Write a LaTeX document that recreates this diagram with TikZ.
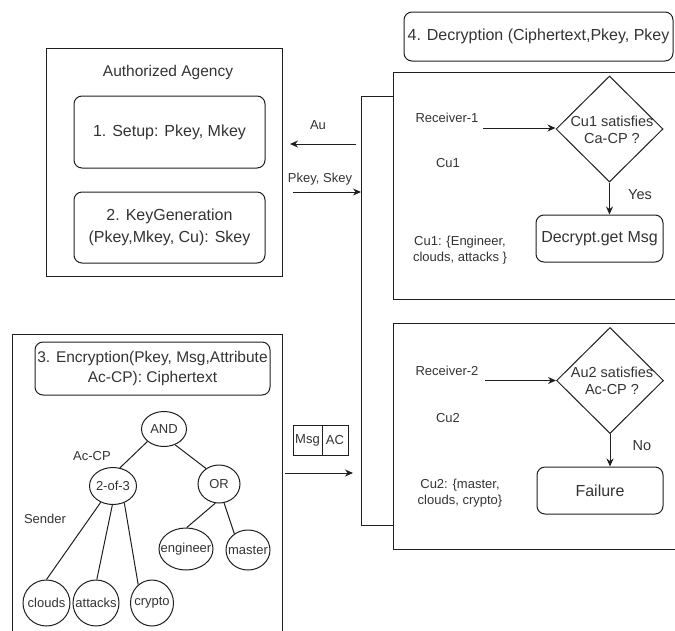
\documentclass[tikz,border=0pt]{standalone}
\usepackage{fontspec}
\setmainfont{Liberation Sans}
\usetikzlibrary{shapes.geometric,arrows.meta}
\definecolor{ink}{gray}{0.2}
\definecolor{edge}{gray}{0.12}
\begin{document}
\begin{tikzpicture}[x=1pt,y=-1pt,
  every node/.style={text=ink},
  lbl/.style={font=\fontsize{13}{16}\selectfont},
  mid/.style={font=\fontsize{14.5}{17}\selectfont},
  big/.style={font=\fontsize{16}{22}\selectfont},
  frame/.style={draw=edge, line width=1pt, rectangle, inner sep=0pt},
  rbox/.style={draw=edge, line width=1pt, rectangle, rounded corners=8pt,
               inner sep=0pt, align=center, big},
  ell/.style={draw=edge, line width=1pt, ellipse, inner sep=0pt,
              label={[lbl, text=ink]center:#1}},
  decision/.style={draw=edge, line width=1pt, diamond, inner sep=0pt,
                   minimum width=107, minimum height=106},
  wire/.style={draw=edge, line width=1pt},
  arr/.style={wire, -{Stealth[length=8pt,width=7pt]}},
]
\useasboundingbox (0,0) rectangle (675,630);
\clip (0,0) rectangle (675,630);

% ---------- authorized agency ----------
\node[frame, minimum width=236, minimum height=228] (agency) at (164,162) {};
\node[big, font=\fontsize{15.5}{18}\selectfont] (agencyname) at (168,72) {Authorized Agency};
\node[rbox, minimum width=191, minimum height=72] (setup) at (169.5,132) {1. Setup: Pkey, Mkey};
\node[rbox, minimum width=191, minimum height=71] (keygen) at (169.5,227.5)
  {2. KeyGeneration\\(Pkey,Mkey, Cu): Skey};

% ---------- sender ----------
\node[frame, minimum width=270, minimum height=310] (sender) at (147,489) {};
\node[rbox, minimum width=235, minimum height=53, font=\fontsize{15.5}{20}\selectfont]
  (enc) at (152.5,368.5) {3. Encryption(Pkey, Msg,Attribute\\Ac-CP): Ciphertext};
\node[lbl] (senderlbl) at (45,519) {Sender};
\node[lbl] (accp) at (92,456) {Ac-CP};

% access tree
\node[ell=AND, minimum width=45, minimum height=35] (and) at (164,429) {};
\node[ell=2-of-3, minimum width=47, minimum height=37] (two) at (113,486) {};
\node[ell=OR, minimum width=42, minimum height=38] (or) at (219,484) {};
\node[ell=engineer, minimum width=54, minimum height=42] (eng) at (186,549) {};
\node[ell=master, minimum width=44, minimum height=40] (mas) at (248,550) {};
\node[ell=clouds, minimum width=47, minimum height=46] (clo) at (46.5,603) {};
\node[ell=attacks, minimum width=46, minimum height=46] (att) at (96,603) {};
\node[ell=crypto, minimum width=43, minimum height=46] (cry) at (152,603) {};

\draw[wire] (and.217) -- (two.69);
\draw[wire] (and.305) -- (or.130);
\draw[wire] (two.233) -- (clo.90);
\draw[wire] (two.268) -- (att.88);
\draw[wire] (two.304) -- (cry.127);
\draw[wire] (or.259) -- (eng.88);
\draw[wire] (or.285) -- (mas.130);

% ciphertext packet
\node[frame, minimum width=29, minimum height=30, lbl] (msg) at (307.5,440) {Msg};
\node[frame, minimum width=26, minimum height=30, lbl] (ac) at (335,440) {AC};

% ---------- decryption side ----------
\node[rbox, minimum width=269, minimum height=49] (dec) at (538.5,36.5)
  {4. Decryption (Ciphertext,Pkey, Pkey};
\node[frame, minimum width=290, minimum height=227] (rec1) at (538,185.5) {};
\node[frame, minimum width=290, minimum height=226] (rec2) at (538,436) {};

% receiver 1
\node[lbl] (r1name) at (447,118) {Receiver-1};
\node[lbl] (cu1) at (448,163) {Cu1};
\node[lbl, align=center] (cu1set) at (460,250) {Cu1: \{Engineer,\\clouds, attacks \}};
\node[decision] (d1) at (609.5,129) {};
\node[mid, align=center] (d1txt) at (612,129.5) {Cu1 satisfies\\Ca-CP ?};
\node[rbox, minimum width=127, minimum height=47] (getmsg) at (599.5,238.5) {Decrypt.get Msg};
\node[mid] (yes) at (640,195) {Yes};
\coordinate (r1start) at (483,128);
\draw[arr] (r1start) -- (r1start -| d1.west);
\draw[arr] (d1.south) -- (d1.south |- getmsg.north);

% receiver 2
\node[lbl] (r2name) at (447,371) {Receiver-2};
\node[lbl] (cu2) at (448,418) {Cu2};
\node[lbl, align=center] (cu2set) at (460,493) {Cu2: \{master,\\clouds, crypto\}};
\node[decision] (d2) at (610,380.5) {};
\node[mid, align=center] (d2txt) at (612,380.5) {Au2 satisfies\\Ac-CP ?};
\node[rbox, minimum width=126, minimum height=47] (fail) at (600,490.5) {Failure};
\node[mid] (no) at (642,446) {No};
\coordinate (r2start) at (485,380.5);
\draw[arr] (r2start) -- (r2start -| d2.west);
\draw[arr] (d2.south) -- (d2.south |- fail.north);

% ---------- distribution bus ----------
\coordinate (busT) at (361,96);
\coordinate (busB) at (361,525);
\draw[wire] (rec1.west |- busT) -- (busT) -- (busB) -- (rec2.west |- busB);

\coordinate (auFrom) at (356,144);
\coordinate (auTo) at (290,144);
\draw[arr] (auFrom) -- (auTo);
\node[lbl] (aulbl) at (318,125) {Au};

\coordinate (pkFrom) at (293,192);
\draw[arr] (pkFrom) -- (pkFrom -| busT);
\node[lbl] (pklbl) at (320,179) {Pkey, Skey};

\coordinate (ctFrom) at (285,473);
\coordinate (ctTo) at (353,473);
\draw[arr] (ctFrom) -- (ctTo);
\end{tikzpicture}
\end{document}
